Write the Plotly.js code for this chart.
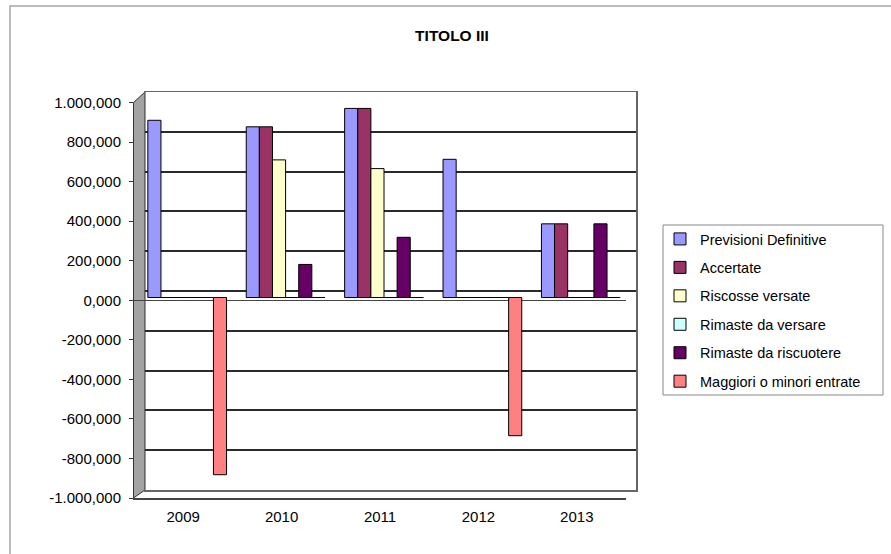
<!DOCTYPE html>
<html>
<head>
<meta charset="utf-8">
<script src="https://cdn.plot.ly/plotly-3.0.1.min.js"></script>
<style>html,body{margin:0;padding:0;background:#fff;}#chart{width:891px;height:554px;}</style>
</head>
<body>
<div id="chart"></div>
<script>
// ---- data (values in thousands) ----
const years = ['2009', '2010', '2011', '2012', '2013'];
const seriesNames = ['Previsioni Definitive', 'Accertate', 'Riscosse versate', 'Rimaste da versare', 'Rimaste da riscuotere', 'Maggiori o minori entrate'];
const previsioni = [895, 862, 955, 698, 372];
const accertate = [0, 862, 955, 0, 372];
const riscosse = [0, 695, 651, 0, 0];
const rimasteVersare = [0, 0, 0, 0, 0];
const rimasteRiscuotere = [0, 167, 304, 0, 372];
const maggiori = [-895, 0, 0, -698, 0];
const yTickVals = [-1000, -800, -600, -400, -200, 0, 200, 400, 600, 800, 1000];
const yTickText = ['-1.000,000', '-800,000', '-600,000', '-400,000', '-200,000', '0,000', '200,000', '400,000', '600,000', '800,000', '1.000,000'];
const yearIdx = [0, 1, 2, 3, 4];

// ---- styling ----
const colors = ['#9999FF', '#993366', '#FFFFCC', '#CCFFFF', '#660066', '#FF8080'];
const values = [previsioni, accertate, riscosse, rimasteVersare, rimasteRiscuotere, maggiori];
const W = 891, H = 554;
const px = x => x / W;
const py = y => 1 - y / H;
const FONT = 'Liberation Sans, Arial, sans-serif';

// invisible carrier traces so the back-wall and front-axis subplots are drawn
const carriers = [
  {type: 'scatter', mode: 'none', x: yearIdx, y: previsioni, xaxis: 'x', yaxis: 'y', showlegend: false, hoverinfo: 'skip'},
  {type: 'scatter', mode: 'none', x: yearIdx, y: previsioni, xaxis: 'x2', yaxis: 'y2', showlegend: false, hoverinfo: 'skip'}
];

const traces = carriers.concat(values.map((v, i) => ({
  type: 'bar',
  name: seriesNames[i],
  x: years,
  y: v,
  xaxis: 'x3',
  yaxis: 'y3',
  legendgroup: 'g' + i,
  marker: {color: colors[i], line: {color: '#000', width: 1}},
  hoverinfo: 'x+y+name'
})));

const layout = {
  width: W, height: H,
  margin: {l: 0, r: 0, t: 0, b: 0},
  paper_bgcolor: '#fff',
  plot_bgcolor: 'rgba(0,0,0,0)',
  font: {family: FONT, size: 15, color: '#000'},
  separators: ',.',
  title: {text: '<b>TITOLO III</b>', x: px(452), xanchor: 'center', y: py(36), yanchor: 'middle', font: {family: FONT, size: 15.5, color: '#000'}},
  barmode: 'group', bargap: 0.2, bargroupgap: 0,
  showlegend: true,
  legend: {
    x: px(660), y: py(223), xanchor: 'left', yanchor: 'top',
    bgcolor: 'rgba(0,0,0,0)', borderwidth: 0,
    font: {family: FONT, size: 14.5, color: '#000'},
    traceorder: 'grouped', tracegroupgap: 6.6
  },
  // back wall (gridlines + frame)
  xaxis: {domain: [px(145), px(636)], anchor: 'y', range: [-0.5, 4.5], showticklabels: false, ticks: '', showgrid: false, zeroline: false, showline: true, mirror: true, linecolor: '#666', linewidth: 1.5, fixedrange: true},
  yaxis: {domain: [py(490), py(92)], anchor: 'x', range: [-1000, 1000], tickvals: yTickVals, showticklabels: false, ticks: '', showgrid: true, gridcolor: '#2a2a2a', gridwidth: 2, zeroline: false, showline: true, mirror: true, linecolor: '#666', linewidth: 1.5, fixedrange: true},
  // front axes (labels)
  xaxis2: {domain: [px(134), px(626)], anchor: 'y2', range: [-0.5, 4.5], tickvals: yearIdx, ticktext: years, ticks: '', ticklabelstandoff: 4, showgrid: false, zeroline: false, showline: true, linecolor: '#444', linewidth: 2, tickfont: {size: 15}, fixedrange: true},
  yaxis2: {domain: [py(498), py(102.5)], anchor: 'x2', range: [-1000, 1000], tickvals: yTickVals, ticktext: yTickText, ticks: 'outside', ticklen: 4, tickcolor: '#333', ticklabelstandoff: 5, showgrid: false, zeroline: true, zerolinecolor: '#444', zerolinewidth: 1.5, showline: true, linecolor: '#333', linewidth: 1, tickfont: {size: 15}, fixedrange: true},
  // bars (mid depth)
  xaxis3: {domain: [px(138), px(630)], anchor: 'y3', type: 'category', range: [-0.5, 4.5], visible: false, fixedrange: true},
  yaxis3: {domain: [py(495.5), py(99.5)], anchor: 'x3', range: [-1000, 1000], visible: false, fixedrange: true},
  shapes: [
    // outer chart-area border (top + left)
    {type: 'path', xref: 'paper', yref: 'paper', path: `M${px(10)},${py(560)} L${px(10)},${py(6)} L${px(895)},${py(6)}`, line: {color: '#a6a6a6', width: 1.5}},
    // gray side wall
    {type: 'path', xref: 'paper', yref: 'paper', layer: 'below', path: `M${px(133.5)},${py(102.5)} L${px(145)},${py(92)} L${px(145)},${py(490)} L${px(133.5)},${py(498)} Z`, fillcolor: '#a3a3a3', line: {color: '#333', width: 1}},
    // legend box
    {type: 'rect', xref: 'paper', yref: 'paper', x0: px(663), x1: px(883), y0: py(395), y1: py(225), line: {color: '#888', width: 1}, fillcolor: 'rgba(0,0,0,0)'}
  ]
};

Plotly.newPlot('chart', traces, layout, {displayModeBar: false, staticPlot: true});
</script>
</body>
</html>
